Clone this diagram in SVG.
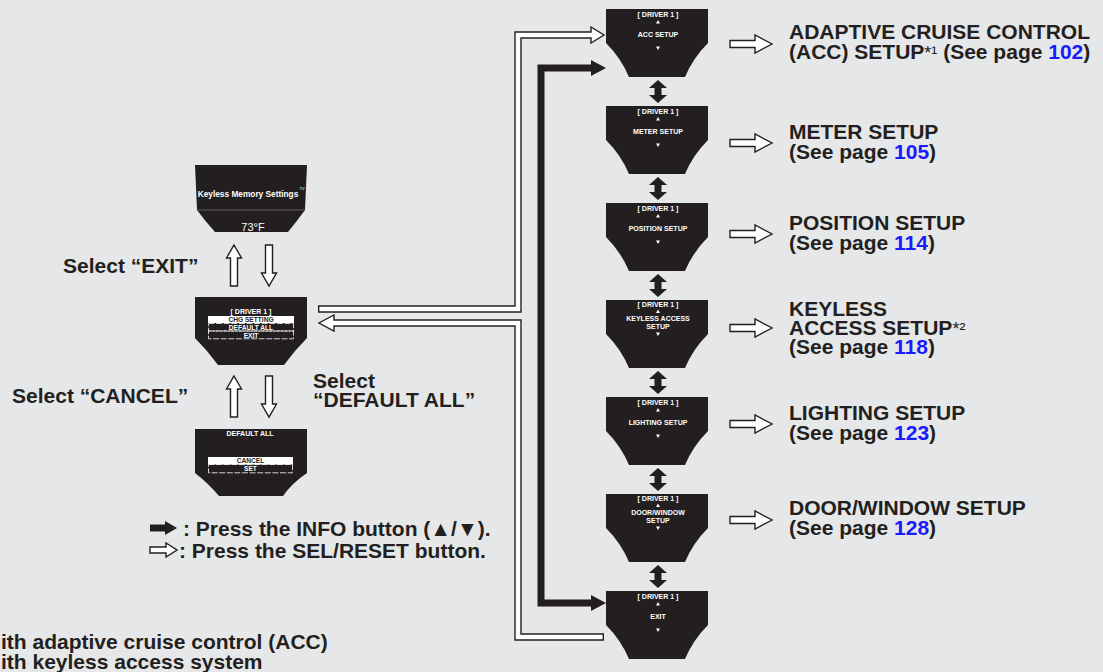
<svg xmlns="http://www.w3.org/2000/svg" xmlns:xlink="http://www.w3.org/1999/xlink" width="1103" height="672" viewBox="0 0 1103 672">
<style>
.bg{fill:#e6e7e8}
.scr{fill:#231f20}
.t{font-family:"Liberation Sans",Arial,sans-serif;font-weight:bold;font-size:21px;fill:#231f20}
.pg{fill:#1a1aff}
.sup{font-size:18px;font-weight:normal}
.st{font-family:"Liberation Sans",Arial,sans-serif;font-weight:bold;font-size:7px;fill:#fff;text-anchor:middle}
.stb{fill:#231f20}
.hol-o{fill:none;stroke:#231f20;stroke-width:7.4;stroke-linejoin:miter}
.hol-i{fill:none;stroke:#fff;stroke-width:4.6;stroke-linejoin:miter}
.hh{fill:#fff;stroke:#231f20;stroke-width:1.4;stroke-linejoin:miter}
.blk{fill:none;stroke:#231f20;stroke-width:7;stroke-linejoin:miter}
.bh{fill:#231f20}
.dash{fill:none;stroke:#fff;stroke-width:0.8;stroke-dasharray:6 1.6}
.tri{fill:#fff}
</style>
<defs>
<path id="rs" d="M0,0 H102 V34 Q87,49 79,68 H23 Q15,49 0,34 Z"/>
<polygon id="ha" points="0,-3.5 25,-3.5 25,-9 42,0 25,9 25,3.5 0,3.5"/>
<polygon id="up" points="0,0 7.5,13 3.5,13 3.5,41 -3.5,41 -3.5,13 -7.5,13"/>
<polygon id="dn" points="-3.5,0 3.5,0 3.5,28 7.5,28 0,41 -7.5,28 -3.5,28"/>
<polygon id="dbl" points="0,0 9,8 3.5,8 3.5,15 9,15 0,23 -9,15 -3.5,15 -3.5,8 -9,8"/>
<polygon id="tu" points="0,-2 2,1.6 -2,1.6"/>
<polygon id="td" points="-2,-1.6 2,-1.6 0,2"/>
</defs>
<rect class="bg" x="0" y="0" width="1103" height="672"/>

<!-- Left column screens -->
<g id="screen-keyless-memory">
<path class="scr" d="M195,165 H307 L305,210 Q297,221 288,232 H215 Q205,221 197,210 Z"/>
<line x1="197" y1="210" x2="305" y2="210" stroke="#6d6e71" stroke-width="0.8"/>
<text class="st" x="248" y="197" style="font-size:8.3px">Keyless Memory Settings</text>
<text class="st" x="302" y="190" style="font-size:4px;font-weight:normal">TV</text>
<text class="st" x="253" y="231" style="font-size:11px;font-weight:normal">73°F</text>
</g>

<g id="screen-driver-menu">
<path class="scr" d="M195,297 H307 V338 Q295,350 284,365 H218 Q207,350 195,338 Z"/>
<text class="st" x="251" y="313.5">[ DRIVER 1 ]</text>
<rect x="208" y="316" width="86" height="7" fill="#fff"/>
<text class="st stb" x="251" y="322" style="font-size:6.6px">CHG SETTING</text>
<rect class="dash" x="208.5" y="323.5" width="85" height="7.5"/>
<text class="st" x="251" y="329.8" style="font-size:6.6px">DEFAULT ALL</text>
<rect class="dash" x="208.5" y="331" width="85" height="7.8"/>
<text class="st" x="251" y="337.7" style="font-size:6.6px">EXIT</text>
</g>

<g id="screen-default-all">
<path class="scr" d="M195,429 H307 V473 Q292,483 283,496 H219 Q208,483 195,473 Z"/>
<text class="st" x="250" y="435.5">DEFAULT ALL</text>
<rect x="208" y="457" width="85" height="7.5" fill="#fff"/>
<text class="st stb" x="250.5" y="463.2" style="font-size:6.6px">CANCEL</text>
<rect class="dash" x="208.5" y="464.5" width="84" height="8.3"/>
<text class="st" x="250.5" y="471.2" style="font-size:6.6px">SET</text>
</g>

<!-- Right column screens -->
<g id="screen-acc">
<use xlink:href="#rs" class="scr" x="606" y="9"/>
<text class="st" x="658" y="17">[ DRIVER 1 ]</text>
<use xlink:href="#tu" class="tri" x="658" y="22"/>
<text class="st" x="658" y="36.5">ACC SETUP</text>
<use xlink:href="#td" class="tri" x="658" y="48"/>
</g>
<g id="screen-meter">
<use xlink:href="#rs" class="scr" x="606" y="106"/>
<text class="st" x="658" y="114">[ DRIVER 1 ]</text>
<use xlink:href="#tu" class="tri" x="658" y="119"/>
<text class="st" x="658" y="133.5">METER SETUP</text>
<use xlink:href="#td" class="tri" x="658" y="145"/>
</g>
<g id="screen-position">
<use xlink:href="#rs" class="scr" x="606" y="203"/>
<text class="st" x="658" y="211">[ DRIVER 1 ]</text>
<use xlink:href="#tu" class="tri" x="658" y="216"/>
<text class="st" x="658" y="230.5">POSITION SETUP</text>
<use xlink:href="#td" class="tri" x="658" y="242"/>
</g>
<g id="screen-keyless">
<use xlink:href="#rs" class="scr" x="606" y="300"/>
<text class="st" x="658" y="307">[ DRIVER 1 ]</text>
<use xlink:href="#tu" class="tri" x="658" y="311.5"/>
<text class="st" x="658" y="320.5">KEYLESS ACCESS</text>
<text class="st" x="658" y="329">SETUP</text>
<use xlink:href="#td" class="tri" x="658" y="334"/>
</g>
<g id="screen-lighting">
<use xlink:href="#rs" class="scr" x="606" y="397"/>
<text class="st" x="658" y="405">[ DRIVER 1 ]</text>
<use xlink:href="#tu" class="tri" x="658" y="410"/>
<text class="st" x="658" y="424.5">LIGHTING SETUP</text>
<use xlink:href="#td" class="tri" x="658" y="436"/>
</g>
<g id="screen-door-window">
<use xlink:href="#rs" class="scr" x="606" y="494"/>
<text class="st" x="658" y="501">[ DRIVER 1 ]</text>
<use xlink:href="#tu" class="tri" x="658" y="505.5"/>
<text class="st" x="658" y="514.5">DOOR/WINDOW</text>
<text class="st" x="658" y="523">SETUP</text>
<use xlink:href="#td" class="tri" x="658" y="528"/>
</g>
<g id="screen-exit">
<use xlink:href="#rs" class="scr" x="606" y="591"/>
<text class="st" x="658" y="599">[ DRIVER 1 ]</text>
<use xlink:href="#tu" class="tri" x="658" y="604"/>
<text class="st" x="658" y="618.5">EXIT</text>
<use xlink:href="#td" class="tri" x="658" y="630"/>
</g>

<!-- Right labels -->
<g id="label-acc">
<text class="t" x="789" y="39">ADAPTIVE CRUISE CONTROL</text>
<text class="t" x="789" y="59">(ACC) SETUP<tspan class="sup">*¹</tspan> (See page <tspan class="pg">102</tspan>)</text>
</g>
<g id="label-meter">
<text class="t" x="789" y="139">METER SETUP</text>
<text class="t" x="789" y="159">(See page <tspan class="pg">105</tspan>)</text>
</g>
<g id="label-position">
<text class="t" x="789" y="229.5">POSITION SETUP</text>
<text class="t" x="789" y="249.5">(See page <tspan class="pg">114</tspan>)</text>
</g>
<g id="label-keyless">
<text class="t" x="789" y="316">KEYLESS</text>
<text class="t" x="789" y="335">ACCESS SETUP<tspan class="sup">*²</tspan></text>
<text class="t" x="789" y="354">(See page <tspan class="pg">118</tspan>)</text>
</g>
<g id="label-lighting">
<text class="t" x="789" y="419.5">LIGHTING SETUP</text>
<text class="t" x="789" y="439.5">(See page <tspan class="pg">123</tspan>)</text>
</g>
<g id="label-door">
<text class="t" x="789" y="515">DOOR/WINDOW SETUP</text>
<text class="t" x="789" y="535">(See page <tspan class="pg">128</tspan>)</text>
</g>

<!-- Left labels -->
<g id="label-select-exit"><text class="t" x="63" y="273">Select “EXIT”</text></g>
<g id="label-select-cancel"><text class="t" x="12" y="403">Select “CANCEL”</text></g>
<g id="label-select-default">
<text class="t" x="313" y="388">Select</text>
<text class="t" x="313" y="407">“DEFAULT ALL”</text>
</g>

<!-- Connectors -->
<g id="connectors">
<use xlink:href="#up" class="hh" x="234" y="245"/>
<use xlink:href="#dn" class="hh" x="269" y="245"/>
<use xlink:href="#up" class="hh" x="234" y="376"/>
<use xlink:href="#dn" class="hh" x="269" y="376"/>

<use xlink:href="#dbl" class="bh" x="658" y="80"/>
<use xlink:href="#dbl" class="bh" x="658" y="177"/>
<use xlink:href="#dbl" class="bh" x="658" y="274"/>
<use xlink:href="#dbl" class="bh" x="658" y="371"/>
<use xlink:href="#dbl" class="bh" x="658" y="468"/>
<use xlink:href="#dbl" class="bh" x="658" y="565"/>

<use xlink:href="#ha" class="hh" x="730" y="44"/>
<use xlink:href="#ha" class="hh" x="730" y="143"/>
<use xlink:href="#ha" class="hh" x="730" y="234"/>
<use xlink:href="#ha" class="hh" x="730" y="328"/>
<use xlink:href="#ha" class="hh" x="730" y="424"/>
<use xlink:href="#ha" class="hh" x="730" y="520"/>

<path class="hol-o" d="M318,309 H518 V35 H592"/>
<polygon class="hh" points="591,27 604,35 591,43"/>
<path class="hol-i" d="M319.4,309 H518 V35 H592.5"/>
<path class="hol-o" d="M604,637 H518 V323 H333"/>
<polygon class="hh" points="334,315 319,323 334,331"/>
<path class="hol-i" d="M602.6,637 H518 V323 H332.5"/>
<path class="blk" d="M593,68 H541 V603 H593"/>
<polygon class="bh" points="591,60 606,68 591,76"/>
<polygon class="bh" points="591,595 606,603 591,611"/>
</g>

<!-- Legend -->
<g id="legend">
<path class="blk" d="M150,528 H167"/>
<polygon class="bh" points="165,521 177,528 165,535"/>
<text class="t" x="183" y="535.5">: Press the INFO button (▲/▼).</text>
<polygon class="hh" points="150,547 166,547 166,543 177,550 166,557 166,553 150,553"/>
<text class="t" x="179" y="557.5">: Press the SEL/RESET button.</text>
</g>

<!-- Footnotes -->
<g id="footnotes">
<text class="t" x="1" y="649">ith adaptive cruise control (ACC)</text>
<text class="t" x="1" y="669">ith keyless access system</text>
</g>
</svg>
